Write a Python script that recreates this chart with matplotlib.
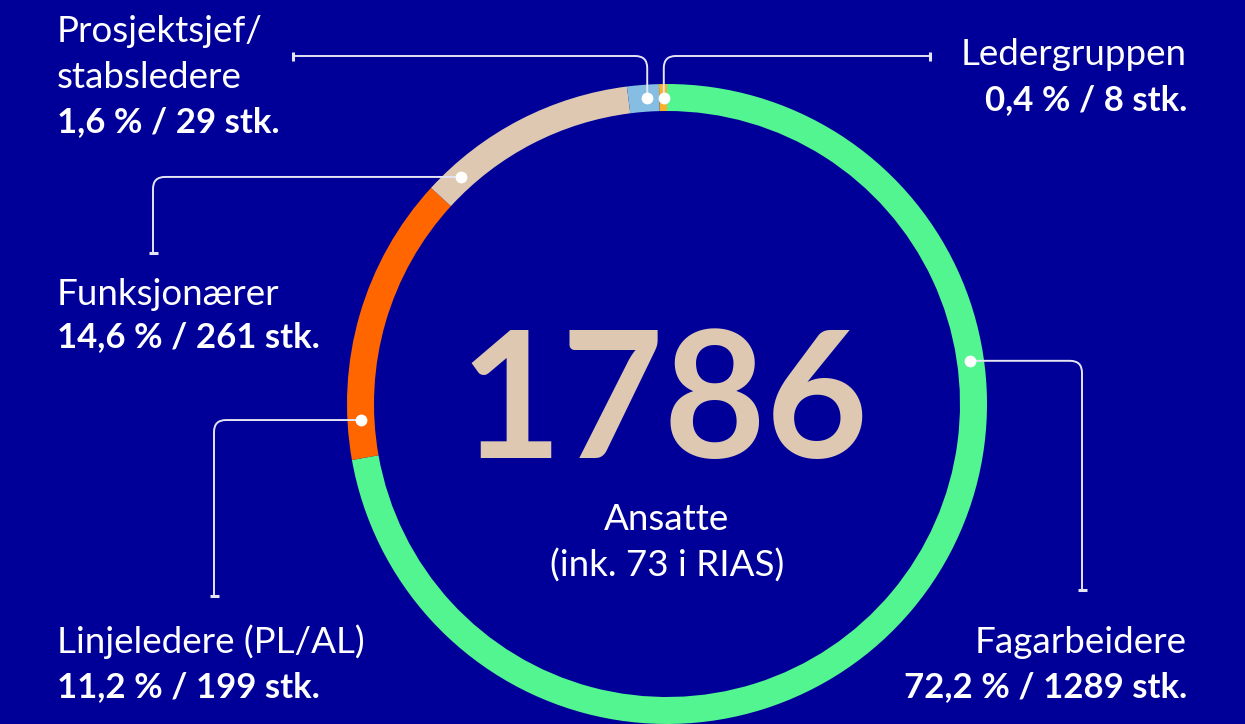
import numpy as np
import matplotlib.pyplot as plt
from matplotlib.path import Path
from matplotlib.patches import PathPatch

plt.rcParams["font.family"] = ["Lato", "DejaVu Sans"]

BG = "#000099"
LINE = "#E4E4F2"
TEXT = "#FFFFFF"

# ring segments, clockwise from the top
segments = ["Fagarbeidere", "Funksjonærer", "Linjeledere (PL/AL)",
            "Prosjektsjef/stabsledere", "Ledergruppen"]
shares = [72.2, 14.6, 11.2, 1.6, 0.4]
ring_colors = ["#52F590", "#FF6600", "#DEC8B1", "#86BDE2", "#F7B12C"]

# label blocks
label_names = ["Ledergruppen", "Prosjektsjef/\nstabsledere", "Funksjonærer",
               "Linjeledere (PL/AL)", "Fagarbeidere"]
label_values = ["0,4 % / 8 stk.", "1,6 % / 29 stk.", "14,6 % / 261 stk.",
                "11,2 % / 199 stk.", "72,2 % / 1289 stk."]

total = "1786"
subtitle = ["Ansatte", "(ink. 73 i RIAS)"]

# layout (pixel coords, y down)
CX, CY, R, W = 667, 404, 320, 27
# dot angle (deg clockwise from top), route, corner/turn value, end value,
# text x, alignment, baselines
layout = [
    (359.4, "up", 56, 930, 1187, "right", [65, 110]),
    (356.3, "up", 56, 293, 57, "left", [42, 88, 132]),
    (317.8, "side", 153, 253, 57, "left", [305, 347]),
    (267.0, "side", 214, 596, 57, "left", [653, 697]),
    (81.9, "side", 1082, 590, 1187, "right", [653, 697]),
]
NAME_SIZE = 26.5
VALUE_SIZE = 25


def connector(ax, p0, corner, p1, r=12):
    p0, corner, p1 = (np.asarray(p, float) for p in (p0, corner, p1))
    d0 = (corner - p0) / np.linalg.norm(corner - p0)
    d1 = (p1 - corner) / np.linalg.norm(p1 - corner)
    a = corner - d0 * r
    b = corner + d1 * r
    verts = [p0, a, corner, b, p1]
    codes = [Path.MOVETO, Path.LINETO, Path.CURVE3, Path.CURVE3, Path.LINETO]
    ax.add_patch(PathPatch(Path(verts, codes), fill=False, ec=LINE, lw=1.4,
                           capstyle="butt", zorder=3))
    # small tick at the loose end
    perp = np.array([-d1[1], d1[0]]) * 4.5
    ax.plot(*zip(p1 - perp, p1 + perp), color=LINE, lw=2.2,
            solid_capstyle="butt", zorder=3)


fig = plt.figure(figsize=(12.45, 7.24), dpi=100, facecolor=BG)
ax = fig.add_axes([0, 0, 1, 1])
ax.set_facecolor(BG)

# y axis is inverted below, so counterclock + 270 runs clockwise from the top
ax.pie(shares, colors=ring_colors, startangle=270, counterclock=True,
       radius=R, center=(CX, CY),
       wedgeprops=dict(width=W, linewidth=0, antialiased=True))

rm = R - W / 2
for (ang, route, turn, end, tx, ha, ys), name, val in zip(layout, label_names, label_values):
    t = np.deg2rad(ang)
    dot = (CX + rm * np.sin(t), CY - rm * np.cos(t))
    if route == "up":
        corner = (dot[0], turn)
        p1 = (end, turn)
    else:
        corner = (turn, dot[1])
        p1 = (turn, end)
    connector(ax, dot, corner, p1)
    ax.plot(*dot, "o", color="white", ms=8.5, mec="none", zorder=4)

    lines = name.split("\n")
    for line, y in zip(lines, ys):
        ax.text(tx, y, line, ha=ha, va="baseline", color=TEXT,
                fontsize=NAME_SIZE, fontweight="normal")
    ax.text(tx, ys[len(lines)], val, ha=ha, va="baseline", color=TEXT,
            fontsize=VALUE_SIZE, fontweight="bold")

ax.text(664, 458, total, ha="center", va="baseline", color="#DEC8B1",
        fontsize=127, fontweight="bold")
for line, y in zip(subtitle, [530, 577]):
    ax.text(CX, y, line, ha="center", va="baseline", color=TEXT,
            fontsize=NAME_SIZE, fontweight="normal")

ax.set_xlim(0, 1245)
ax.set_ylim(724, 0)
ax.set_aspect("equal")
ax.axis("off")

fig.savefig("out.png", dpi=100, facecolor=BG)
